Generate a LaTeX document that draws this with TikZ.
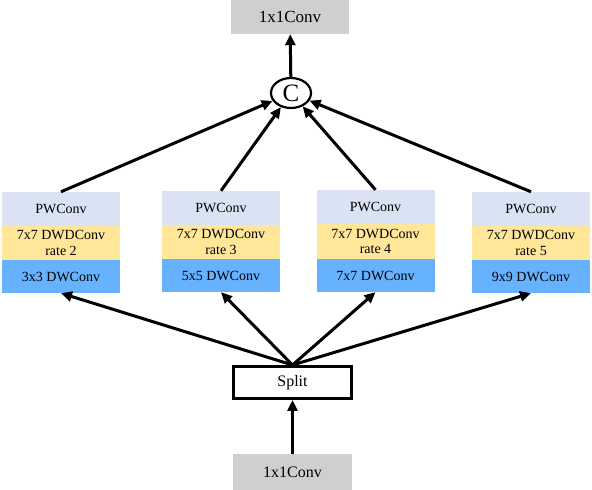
\documentclass[tikz,border=0pt]{standalone}
\usepackage{fontspec}
\setmainfont{Liberation Serif}
\usetikzlibrary{arrows.meta}
\usetikzlibrary{shapes.geometric}
\definecolor{pwcol}{HTML}{DAE3F3}
\definecolor{dwdcol}{HTML}{FFE699}
\definecolor{dwcol}{HTML}{66B2FF}
\definecolor{convcol}{HTML}{D0CECE}
\tikzset{
  band/.style={rectangle,inner sep=0pt,minimum width=118pt,align=center,font=\fontsize{14}{15.5}\selectfont},
  flow/.style={line width=3pt,-{Triangle[length=11pt,width=10pt]}}
}

\begin{document}
\begin{tikzpicture}[x=1pt,y=1pt]
\useasboundingbox (0,0) rectangle (592,490);
\node[rectangle,fill=convcol,minimum width=118pt,minimum height=34pt,font=\fontsize{17}{19}\selectfont] (top) at (290,473) {1x1Conv};
\node[ellipse,draw,line width=2.2pt,minimum width=40pt,minimum height=30pt,inner sep=0pt,font=\fontsize{25}{26}\selectfont] (C) at (291,397) {C};

\node[band,fill=pwcol,minimum height=34pt] (pw1) at (61,281) {PWConv};
\node[band,fill=dwdcol,minimum height=34pt] (dwd1) at (61,247) {7x7 DWDConv\\rate 2};
\node[band,fill=dwcol,minimum height=33pt] (dw1) at (61,213.5) {3x3 DWConv};

\node[band,fill=pwcol,minimum height=34pt] (pw2) at (221,282) {PWConv};
\node[band,fill=dwdcol,minimum height=34pt] (dwd2) at (221,248) {7x7 DWDConv\\rate 3};
\node[band,fill=dwcol,minimum height=33pt] (dw2) at (221,214.5) {5x5 DWConv};

\node[band,fill=pwcol,minimum height=34pt] (pw3) at (375.5,283) {PWConv};
\node[band,fill=dwdcol,minimum height=35pt] (dwd3) at (375.5,248.5) {7x7 DWDConv\\rate 4};
\node[band,fill=dwcol,minimum height=33pt] (dw3) at (375.5,214.5) {7x7 DWConv};

\node[band,fill=pwcol,minimum height=34pt] (pw4) at (531,281) {PWConv};
\node[band,fill=dwdcol,minimum height=34pt] (dwd4) at (531,247) {7x7 DWDConv\\rate 5};
\node[band,fill=dwcol,minimum height=33pt] (dw4) at (531,213.5) {9x9 DWConv};

\node[rectangle,draw,line width=3pt,minimum width=118pt,minimum height=32pt,font=\fontsize{16}{18}\selectfont] (split) at (292.5,107.5) {Split};
\node[rectangle,fill=convcol,minimum width=119pt,minimum height=36pt,font=\fontsize{16}{18}\selectfont] (bottom) at (292.5,18) {1x1Conv};

\draw[flow] (bottom) -- (split);
\draw[flow] (split.north) -- (dw1.south);
\draw[flow] (split.north) -- (dw2.south);
\draw[flow] (split.north) -- (dw3.south);
\draw[flow] (split.north) -- (dw4.south);
\draw[flow] (pw1.north) -- (C);
\draw[flow] (pw2.north) -- (C);
\draw[flow] (pw3.north) -- (C);
\draw[flow] (pw4.north) -- (C);
\draw[flow] (C) -- (top);
\end{tikzpicture}
\end{document}
